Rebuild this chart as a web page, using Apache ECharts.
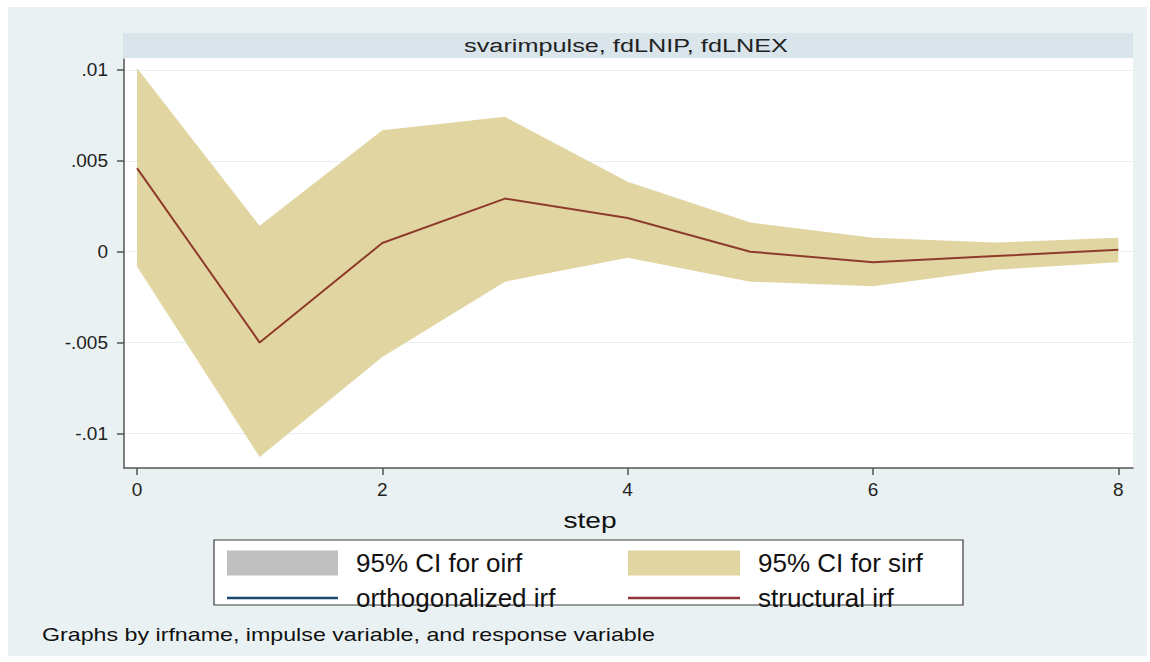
<!DOCTYPE html>
<html>
<head>
<meta charset="utf-8">
<script src="https://cdn.jsdelivr.net/npm/echarts@6/dist/echarts.min.js"></script>
<style>
html,body{margin:0;padding:0;background:#ffffff;}
#chart{width:1150px;height:662px;}
</style>
</head>
<body>
<div id="chart"></div>
<script>
// ---- data ----
const steps = [0, 1, 2, 3, 4, 5, 6, 7, 8];
const sirf = [0.00460, -0.00500, 0.00048, 0.00292, 0.00185, 0.00000, -0.00058, -0.00024, 0.00010];
const sirfUpper = [0.01010, 0.00142, 0.00668, 0.00742, 0.00385, 0.00160, 0.00077, 0.00050, 0.00077];
const sirfLower = [-0.00082, -0.01130, -0.00580, -0.00165, -0.00033, -0.00165, -0.00190, -0.00100, -0.00058];
const xTickValues = [0, 2, 4, 6, 8];
const yTickValues = [-0.01, -0.005, 0, 0.005, 0.01];
const yTickLabels = ['-.01', '-.005', '0', '.005', '.01'];
const headerText = 'svarimpulse, fdLNIP, fdLNEX';
const noteText = 'Graphs by irfname, impulse variable, and response variable';
const xTitle = 'step';
const legendNames = ['95% CI for oirf', '95% CI for sirf', 'orthogonalized irf', 'structural irf'];

const FONT = 'Liberation Sans';
const chart = echarts.init(document.getElementById('chart'), null, { renderer: 'svg' });

function legendItem(name, left, top, w, h) {
  return {
    data: [name], left: left, top: top, padding: 0, orient: 'horizontal',
    icon: 'rect', itemWidth: w, itemHeight: h, selectedMode: false,
    itemStyle: { borderWidth: 0 }, lineStyle: { width: 0 },
    textStyle: { fontFamily: FONT, fontSize: 26, color: '#111', padding: [0, 0, 0, 13] },
    z: 10
  };
}

const option = {
  animation: false,
  backgroundColor: '#ffffff',
  graphic: [
    { type: 'rect', z: -10, shape: { x: 8, y: 7, width: 1139, height: 649 }, style: { fill: '#eaf1f3' } },
    { type: 'rect', z: -9, shape: { x: 123, y: 33, width: 1010, height: 25 }, style: { fill: '#d9e5ea' } },
    { type: 'rect', z: -9, shape: { x: 124, y: 58, width: 1009, height: 410 }, style: { fill: '#ffffff' } },
    { type: 'text', z: 5, x: 626, y: 46, scaleX: 1.33, scaleY: 1,
      style: { text: headerText, align: 'center', verticalAlign: 'middle', font: '19px "Liberation Sans"', fill: '#222' } },
    { type: 'text', z: 5, x: 590, y: 520, scaleX: 1.28, scaleY: 1,
      style: { text: xTitle, align: 'center', verticalAlign: 'middle', font: '22px "Liberation Sans"', fill: '#111' } },
    { type: 'rect', z: 1, shape: { x: 214, y: 540, width: 749, height: 65 }, style: { fill: '#ffffff', stroke: '#3a3a3a', lineWidth: 1.2 } },
    { type: 'text', z: 5, x: 42, y: 635, scaleX: 1.29, scaleY: 1,
      style: { text: noteText, align: 'left', verticalAlign: 'middle', font: '18px "Liberation Sans"', fill: '#111' } }
  ],
  grid: { left: 124, top: 59, width: 1009, height: 409, containLabel: false },
  xAxis: {
    type: 'value', min: -0.106, max: 8.12,
    axisLine: { show: true, onZero: false, lineStyle: { color: '#555', width: 1.5 } },
    axisTick: { show: true, customValues: xTickValues, length: 7, lineStyle: { color: '#555', width: 1.5 } },
    axisLabel: { customValues: xTickValues, margin: 12, fontFamily: FONT, fontSize: 19, color: '#222' },
    splitLine: { show: false }
  },
  yAxis: {
    type: 'value', min: -0.0119, max: 0.0106,
    axisLine: { show: true, onZero: false, lineStyle: { color: '#555', width: 1.5 } },
    axisTick: { show: true, customValues: yTickValues, length: 7, lineStyle: { color: '#555', width: 1.5 } },
    axisLabel: {
      customValues: yTickValues, margin: 16, fontFamily: FONT, fontSize: 19, color: '#222',
      formatter: function (v) {
        for (let i = 0; i < yTickValues.length; i++) if (Math.abs(v - yTickValues[i]) < 1e-9) return yTickLabels[i];
        return '';
      }
    },
    splitLine: { show: true, lineStyle: { color: '#e9eff1', width: 1 } }
  },
  legend: [
    legendItem(legendNames[0], 227, 550, 111, 25),
    legendItem(legendNames[1], 628, 550, 112, 25),
    legendItem(legendNames[2], 227, 585, 111, 2.5),
    legendItem(legendNames[3], 628, 585, 112, 2.5)
  ],
  series: [
    {
      name: legendNames[0], type: 'line', data: [], color: '#c0c0c0', itemStyle: { color: '#c0c0c0' }, showSymbol: false
    },
    {
      name: legendNames[1], type: 'custom', color: '#e1d6a2', itemStyle: { color: '#e1d6a2' },
      data: steps.map(function (s, i) { return [s, sirfLower[i], sirfUpper[i]]; }),
      encode: { x: 0, y: [1, 2] },
      renderItem: function (params, api) {
        if (params.dataIndex !== 0) return null;
        const pts = [];
        for (let i = 0; i < steps.length; i++) pts.push(api.coord([steps[i], sirfUpper[i]]));
        for (let i = steps.length - 1; i >= 0; i--) pts.push(api.coord([steps[i], sirfLower[i]]));
        return { type: 'polygon', shape: { points: pts }, style: { fill: '#e1d6a2' } };
      },
      z: 2
    },
    {
      name: legendNames[2], type: 'line', data: [], color: '#1a476f', itemStyle: { color: '#1a476f' }, showSymbol: false
    },
    {
      name: legendNames[3], type: 'line', color: '#90353b', itemStyle: { color: '#90353b' },
      data: steps.map(function (s, i) { return [s, sirf[i]]; }),
      showSymbol: false, symbol: 'none',
      lineStyle: { color: '#8e3b2b', width: 2 },
      z: 3
    }
  ]
};
chart.setOption(option);
</script>
</body>
</html>
